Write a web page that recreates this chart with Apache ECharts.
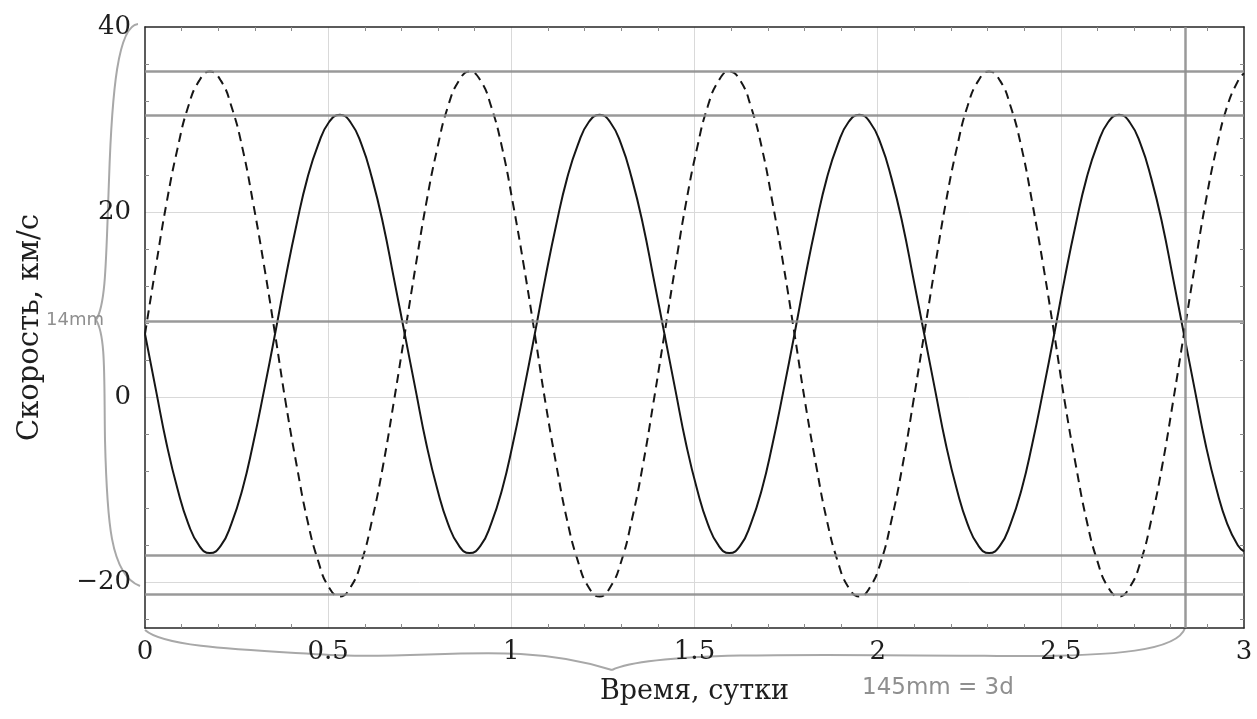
<!DOCTYPE html>
<html>
<head>
<meta charset="utf-8">
<script src="https://cdn.jsdelivr.net/npm/echarts@6/dist/echarts.min.js"></script>
<style>
html,body{margin:0;padding:0;background:#fff;}
#chart{width:1257px;height:719px;}
</style>
</head>
<body>
<div id="chart"></div>
<script>
// Time, days
const timeDays = [
  0, 0.030, 0.059, 0.089, 0.118, 0.148, 0.177, 0.207, 0.236, 0.266, 0.295, 0.325,
  0.355, 0.384, 0.414, 0.443, 0.473, 0.502, 0.532, 0.561, 0.591, 0.620, 0.650, 0.679,
  0.709, 0.739, 0.768, 0.798, 0.827, 0.857, 0.886, 0.916, 0.945, 0.975, 1.004, 1.034,
  1.064, 1.093, 1.123, 1.152, 1.182, 1.211, 1.241, 1.270, 1.300, 1.329, 1.359, 1.388,
  1.418, 1.448, 1.477, 1.507, 1.536, 1.566, 1.595, 1.625, 1.654, 1.684, 1.713, 1.743,
  1.773, 1.802, 1.832, 1.861, 1.891, 1.920, 1.950, 1.979, 2.009, 2.038, 2.068, 2.097,
  2.127, 2.157, 2.186, 2.216, 2.245, 2.275, 2.304, 2.334, 2.363, 2.393, 2.422, 2.452,
  2.482, 2.511, 2.541, 2.570, 2.600, 2.629, 2.659, 2.688, 2.718, 2.747, 2.777, 2.806,
  2.836, 2.866, 2.895, 2.925, 2.954, 2.984, 3.0];
// Solid curve, km/s
const solidVel = [
  6.8, 0.7, -5.1, -10.0, -13.7, -16.1, -16.9, -16.1, -13.7, -10.0, -5.1, 0.7,
  6.8, 12.9, 18.7, 23.6, 27.3, 29.7, 30.5, 29.7, 27.3, 23.6, 18.7, 12.9,
  6.8, 0.7, -5.1, -10.0, -13.7, -16.1, -16.9, -16.1, -13.7, -10.0, -5.1, 0.7,
  6.8, 12.9, 18.7, 23.6, 27.3, 29.7, 30.5, 29.7, 27.3, 23.6, 18.7, 12.9,
  6.8, 0.7, -5.1, -10.0, -13.7, -16.1, -16.9, -16.1, -13.7, -10.0, -5.1, 0.7,
  6.8, 12.9, 18.7, 23.6, 27.3, 29.7, 30.5, 29.7, 27.3, 23.6, 18.7, 12.9,
  6.8, 0.7, -5.1, -10.0, -13.7, -16.1, -16.9, -16.1, -13.7, -10.0, -5.1, 0.7,
  6.8, 12.9, 18.7, 23.6, 27.3, 29.7, 30.5, 29.7, 27.3, 23.6, 18.7, 12.9,
  6.8, 0.7, -5.1, -10.0, -13.7, -16.1, -16.7];
// Dashed curve, km/s
const dashedVel = [
  6.8, 14.2, 21.0, 26.9, 31.4, 34.2, 35.2, 34.2, 31.4, 26.9, 21.0, 14.2,
  6.8, -0.6, -7.4, -13.3, -17.8, -20.6, -21.6, -20.6, -17.8, -13.3, -7.4, -0.6,
  6.8, 14.2, 21.0, 26.9, 31.4, 34.2, 35.2, 34.2, 31.4, 26.9, 21.0, 14.2,
  6.8, -0.6, -7.4, -13.3, -17.8, -20.6, -21.6, -20.6, -17.8, -13.3, -7.4, -0.6,
  6.8, 14.2, 21.0, 26.9, 31.4, 34.2, 35.2, 34.2, 31.4, 26.9, 21.0, 14.2,
  6.8, -0.6, -7.4, -13.3, -17.8, -20.6, -21.6, -20.6, -17.8, -13.3, -7.4, -0.6,
  6.8, 14.2, 21.0, 26.9, 31.4, 34.2, 35.2, 34.2, 31.4, 26.9, 21.0, 14.2,
  6.8, -0.6, -7.4, -13.3, -17.8, -20.6, -21.6, -20.6, -17.8, -13.3, -7.4, -0.6,
  6.8, 14.2, 21.0, 26.9, 31.4, 34.2, 35.0];
// Tick values
const xLabelTicks = [0, 0.5, 1, 1.5, 2, 2.5, 3];
const xGridTicks = [0.5, 1, 1.5, 2, 2.5];
const xMinorTicks = [0.1, 0.2, 0.3, 0.4, 0.6, 0.7, 0.8, 0.9, 1.1, 1.2, 1.3, 1.4,
  1.6, 1.7, 1.8, 1.9, 2.1, 2.2, 2.3, 2.4, 2.6, 2.7, 2.8, 2.9];
const yLabelTicks = [-20, 0, 20, 40];
const yGridTicks = [-20, 0, 20];
const yMinorTicks = [-24, -16, -12, -8, -4, 4, 8, 12, 16, 24, 28, 32, 36];
// Hand-drawn pencil reference lines
const pencilY = [35.2, 30.5, 8.2, -17.1, -21.4];
const pencilX = [2.836];

const FONT = 'DejaVu Serif';
const chart = echarts.init(document.getElementById('chart'), null, {renderer: 'canvas'});

const frameLine = {show: true, onZero: false, lineStyle: {color: '#262626', width: 1.5}};
const minorTickStyle = {color: '#8a8a8a', width: 1};

function xAx(opts) {
  return Object.assign({type: 'value', min: 0, max: 3, interval: 0.5,
    axisLine: {show: false}, axisTick: {show: false}, axisLabel: {show: false},
    splitLine: {show: false}}, opts);
}
function yAx(opts) {
  return Object.assign({type: 'value', min: -25, max: 40, splitNumber: 3,
    axisLine: {show: false}, axisTick: {show: false}, axisLabel: {show: false},
    splitLine: {show: false}}, opts);
}
const pencilStroke = {fill: 'none', stroke: '#a8a8a8', lineWidth: 2};
function bez(x1, y1, cpx1, cpy1, cpx2, cpy2, x2, y2) {
  return {type: 'bezierCurve', silent: true,
    shape: {x1, y1, cpx1, cpy1, cpx2, cpy2, x2, y2}, style: pencilStroke};
}

const option = {
  backgroundColor: '#fff',
  animation: false,
  grid: {left: 145, right: 13, top: 27, bottom: 91, containLabel: false},
  xAxis: [
    xAx({position: 'bottom',
      name: 'Время, сутки', nameLocation: 'middle', nameGap: 50,
      nameTextStyle: {fontFamily: FONT, fontSize: 27, color: '#1e1e1e'},
      axisLine: frameLine,
      axisTick: {show: true, inside: true, length: 4, customValues: xMinorTicks, lineStyle: minorTickStyle},
      axisLabel: {show: true, customValues: xLabelTicks, fontFamily: FONT, fontSize: 26,
        color: '#1e1e1e', margin: 11, formatter: v => String(v)}}),
    xAx({position: 'top', axisLine: frameLine,
      axisTick: {show: true, inside: true, length: 4, customValues: xMinorTicks, lineStyle: minorTickStyle}}),
    xAx({position: 'bottom',
      axisTick: {show: false, customValues: xGridTicks},
      splitLine: {show: true, lineStyle: {color: '#d9d9d9', width: 1}}})
  ],
  yAxis: [
    yAx({position: 'left',
      name: 'Скорость, км/с', nameLocation: 'middle', nameGap: 100,
      nameTextStyle: {fontFamily: FONT, fontSize: 29, color: '#1e1e1e'},
      axisLine: frameLine,
      axisTick: {show: true, inside: true, length: 4, customValues: yMinorTicks, lineStyle: minorTickStyle},
      axisLabel: {show: true, customValues: yLabelTicks, fontFamily: FONT, fontSize: 26,
        color: '#1e1e1e', margin: 14,
        formatter: v => (v < 0 ? '\u2212' + Math.abs(v) : String(v))}}),
    yAx({position: 'right', axisLine: frameLine,
      axisTick: {show: true, inside: true, length: 4, customValues: yMinorTicks, lineStyle: minorTickStyle}}),
    yAx({position: 'left',
      axisTick: {show: false, customValues: yGridTicks},
      splitLine: {show: true, lineStyle: {color: '#d9d9d9', width: 1}}})
  ],
  series: [{
    name: 'solid', type: 'line', smooth: true, showSymbol: false,
    data: timeDays.map((t, i) => [t, solidVel[i]]),
    lineStyle: {color: '#161616', width: 2},
    z: 3
  }, {
    name: 'dashed', type: 'line', smooth: true, showSymbol: false,
    data: timeDays.map((t, i) => [t, dashedVel[i]]),
    lineStyle: {color: '#161616', width: 2, type: [9, 6]},
    z: 3
  }, {
    name: 'pencil', type: 'line', data: [], silent: true,
    markLine: {
      silent: true, symbol: 'none', label: {show: false},
      lineStyle: {color: '#8e8e8e', width: 2.5, type: 'solid', opacity: 0.9},
      data: pencilY.map(v => ({yAxis: v})).concat(pencilX.map(v => ({xAxis: v})))
    },
    z: 2
  }],
  graphic: [
    bez(138, 24, 118, 26, 112, 90, 109, 180),
    bez(109, 180, 106, 260, 106, 305, 96, 320),
    bez(96, 320, 106, 335, 104, 380, 105, 440),
    bez(105, 440, 107, 520, 110, 575, 140, 586),
    bez(145, 630, 165, 648, 250, 650, 330, 655),
    bez(330, 655, 430, 660, 520, 640, 612, 670),
    bez(612, 670, 650, 652, 800, 654, 1000, 656),
    bez(1000, 656, 1120, 657, 1178, 650, 1185, 628),
    {type: 'text', left: 46, top: 311, silent: true,
      style: {text: '14mm', fill: '#8f8f8f', font: '18px "DejaVu Sans"'}},
    {type: 'text', left: 862, top: 677, silent: true,
      style: {text: '145mm = 3d', fill: '#8f8f8f', font: '23px "DejaVu Sans"'}}
  ]
};
chart.setOption(option);
</script>
</body>
</html>
